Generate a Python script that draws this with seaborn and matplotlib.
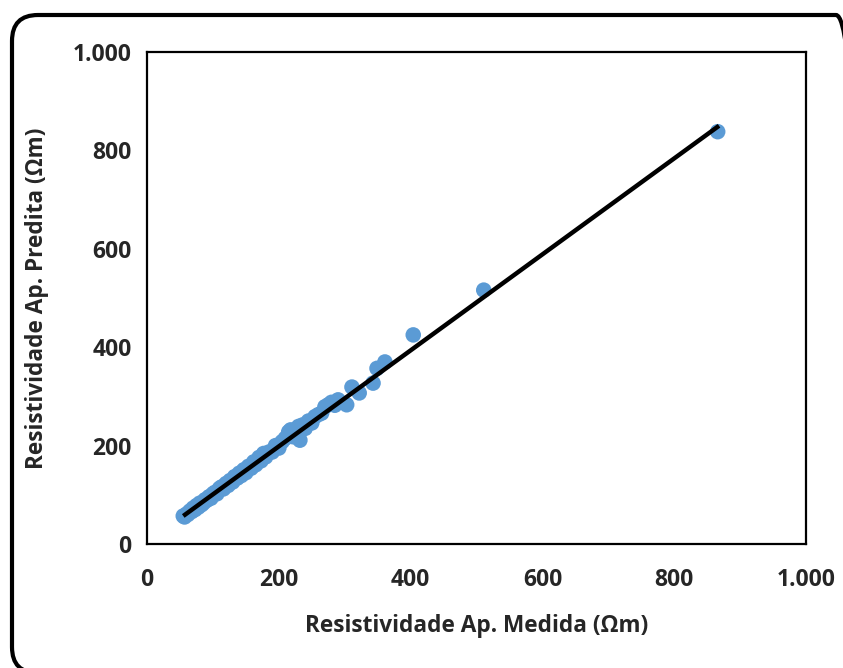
import matplotlib
matplotlib.use("Agg")
import matplotlib.pyplot as plt
import matplotlib.ticker as mticker
from matplotlib.patches import FancyBboxPatch
from matplotlib.transforms import IdentityTransform
import pandas as pd
import seaborn as sns

# Measured vs predicted apparent resistivity (Ohm.m)
medida = [55, 57, 60, 62, 65, 68, 70, 73, 75, 78, 80, 83, 86, 88, 91, 94, 97,
          100, 103, 106, 110, 113, 116, 120, 123, 126, 130, 133, 137, 140, 143,
          147, 150, 154, 158, 162, 165, 170, 173, 177, 180, 185, 190, 195, 200,
          205, 210, 215, 218, 222, 225, 230, 232, 236, 240, 245, 250, 255, 260,
          265, 270, 275, 280, 285, 290, 303, 311, 322, 343, 349, 361, 404, 511,
          866]
predita = [57, 55, 61, 60, 67, 66, 73, 70, 78, 75, 83, 80, 84, 90, 89, 96, 93,
           102, 105, 102, 113, 116, 112, 123, 119, 129, 126, 137, 134, 144, 139,
           151, 145, 158, 154, 167, 161, 176, 169, 184, 177, 187, 187, 200, 195,
           208, 215, 228, 232, 218, 227, 239, 211, 242, 235, 250, 246, 259, 263,
           266, 279, 283, 288, 282, 293, 283, 319, 307, 327, 357, 370, 425, 516,
           838]

# trend line end points
linha_x = [55, 868]
linha_y = [57, 850]

ticks = [0, 200, 400, 600, 800, 1000]

sns.set_theme(style="white")
plt.rcParams['font.family'] = ['Open Sans', 'DejaVu Sans']

fig = plt.figure(figsize=(8.43, 6.68), dpi=100)
ax = fig.add_axes([0.1744, 0.1856, 0.7817, 0.7366])

df = pd.DataFrame({'Medida': medida, 'Predita': predita})
sns.scatterplot(data=df, x='Medida', y='Predita', ax=ax, s=125,
                color='#5B9BD5', edgecolor='none', linewidth=0, zorder=2)
sns.lineplot(x=linha_x, y=linha_y, ax=ax, color='black', linewidth=3.2,
             zorder=3, solid_capstyle='butt')

ax.set_xlim(0, 1000)
ax.set_ylim(0, 1000)
ax.set_xticks(ticks)
ax.set_yticks(ticks)
fmt = mticker.FuncFormatter(lambda v, p: f"{int(v):,}".replace(',', '.'))
ax.xaxis.set_major_formatter(fmt)
ax.yaxis.set_major_formatter(fmt)
ax.tick_params(axis='x', length=0, labelsize=16.5, pad=17)
ax.tick_params(axis='y', length=0, labelsize=16.5, pad=11)
for lab in ax.get_xticklabels() + ax.get_yticklabels():
    lab.set_fontweight('bold')

for sp in ax.spines.values():
    sp.set_visible(True)
    sp.set_color('black')
    sp.set_linewidth(1.6)

ax.set_xlabel('Resistividade Ap. Medida (Ωm)', fontsize=16.3, fontweight='bold',
              labelpad=16)
ax.set_ylabel('Resistividade Ap. Predita (Ωm)', fontsize=16.3, fontweight='bold',
              labelpad=17)
ax.grid(False)

# rounded chart border, like the spreadsheet chart area
border = FancyBboxPatch((12, -5), 850, 658,
                        boxstyle="round,pad=0,rounding_size=26",
                        transform=IdentityTransform(), fill=False,
                        edgecolor='black', linewidth=3)
fig.add_artist(border)

fig.savefig('out.png', dpi=100)
